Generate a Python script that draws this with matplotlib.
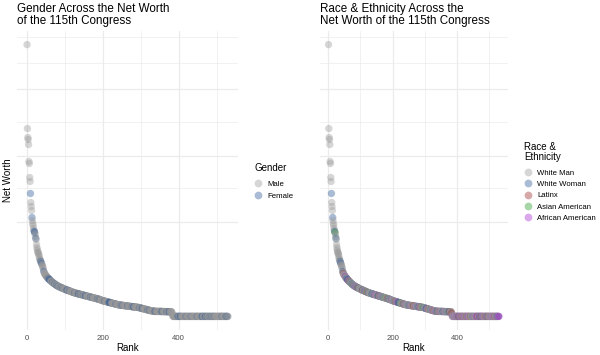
import matplotlib
matplotlib.use("Agg")
import matplotlib.pyplot as plt
from matplotlib.lines import Line2D

# ---------------- data ----------------
# Net worth (arbitrary linear units, y axis has no labels), ordered by rank 1..530
net_worth = [
    272, 188, 179, 177, 172, 155, 153, 139, 135, 123,
    114, 110, 106, 99, 96, 93, 91, 88, 86, 85,
    84, 83, 80, 78, 77, 72, 69, 67, 65, 64,
    63, 62, 60, 58, 57, 56, 55, 54, 53, 52,
    51, 50, 49, 47, 45, 44, 43, 42, 42, 41,
    41, 40, 40, 39, 39, 38, 38, 38, 37, 37,
    36.5, 36, 36, 35.5, 35, 35, 34.5, 34, 34, 33.5,
    33, 33, 32.5, 32.5, 32, 32, 31.5, 31.5, 31, 31,
    30.5, 30.5, 30, 30, 30, 29.5, 29.5, 29.5, 29, 29,
    29, 28.5, 28.5, 28.5, 28, 28, 28, 27.5, 27.5, 27.5,
    27, 27, 27, 26.5, 26.5, 26.5, 26, 26, 26, 26,
    25.8, 25.6, 25.5, 25.3, 25.1, 25, 24.8, 24.7, 24.5, 24.4,
    24.3, 24.1, 24, 23.9, 23.8, 23.6, 23.5, 23.4, 23.3, 23.2,
    23.1, 23, 22.9, 22.8, 22.7, 22.6, 22.5, 22.4, 22.3, 22.2,
    22.1, 22, 21.9, 21.8, 21.7, 21.6, 21.5, 21.4, 21.3, 21.2,
    21.1, 21, 20.9, 20.8, 20.7, 20.6, 20.5, 20.4, 20.3, 20.2,
    20.1, 20, 19.9, 19.8, 19.7, 19.6, 19.5, 19.4, 19.3, 19.2,
    19.1, 19, 18.9, 18.8, 18.7, 18.6, 18.5, 18.4, 18.3, 18.2,
    18.1, 18, 17.9, 17.8, 17.7, 17.6, 17.5, 17.4, 17.3, 17.2,
    17.1, 17, 16.8, 16.6, 16.5, 16.3, 16.2, 16, 15.9, 15.8,
    15.7, 15.6, 15.5, 15.4, 15.3, 15.2, 15.1, 15, 14.9, 14.8,
    14.7, 14.6, 14.5, 14.4, 14.3, 14.2, 14.1, 14, 13.9, 13.8,
    13.7, 13.6, 13.5, 13.4, 13.3, 13.2, 13.1, 13, 12.9, 12.8,
    12.7, 12.6, 12.5, 12.4, 12.3, 12.2, 12.1, 12, 11.9, 11.8,
    11.7, 11.6, 11.5, 11.5, 11.4, 11.4, 11.3, 11.3, 11.2, 11.2,
    11.1, 11.1, 11, 11, 10.9, 10.9, 10.8, 10.8, 10.7, 10.7,
    10.6, 10.6, 10.5, 10.5, 10.4, 10.4, 10.3, 10.3, 10.2, 10.2,
    10.1, 10.1, 10, 10, 9.9, 9.9, 9.8, 9.8, 9.7, 9.7,
    9.6, 9.6, 9.5, 9.5, 9.4, 9.4, 9.3, 9.3, 9.2, 9.2,
    9.1, 9.1, 9, 9, 8.9, 8.8, 8.7, 8.6, 8.5, 8.4,
    8.3, 8.2, 8.1, 8, 7.9, 7.8, 7.7, 7.6, 7.5, 7.4,
    7.3, 7.2, 7.1, 7, 6.9, 6.8, 6.7, 6.6, 6.5, 6.4,
    6.3, 6.2, 6.1, 6, 5.9, 5.8, 5.7, 5.6, 5.5, 5.5,
    5.4, 5.4, 5.3, 5.3, 5.2, 5.2, 5.1, 5.1, 5, 5,
    5, 5, 5, 5, 5, 5, 5, 5, 5, 5,
    5, 5, 5, 5, 4.9, 4.9, 4.9, 4.9, 4.9, 4.9,
    4.8, 4.8, 4.8, 4.8, 4.8, 4.8, 4.8, 4.8, 4.8, 4.8,
    4.8, 4.8, 4.7, 4.7, 4.7, 4.7, 4.7, 4.7, 4.7, 4.7,
    4.7, 4.6, 3.5, 1.5, 0, 0, 0, 0, 0, 0,
    0, 0, 0, 0, 0, 0, 0, 0, 0, 0,
    0, 0, 0, 0, 0, 0, 0, 0, 0, 0,
    0, 0, 0, 0, 0, 0, 0, 0, 0, 0,
    0, 0, 0, 0, 0, 0, 0, 0, 0, 0,
    0, 0, 0, 0, 0, 0, 0, 0, 0, 0,
    0, 0, 0, 0, 0, 0, 0, 0, 0, 0,
    0, 0, 0, 0, 0, 0, 0, 0, 0, 0,
    0, 0, 0, 0, 0, 0, 0, 0, 0, 0,
    0, 0, 0, 0, 0, 0, 0, 0, 0, 0,
    0, 0, 0, 0, 0, 0, 0, 0, 0, 0,
    0, 0, 0, 0, 0, 0, 0, 0, 0, 0,
    0, 0, 0, 0, 0, 0, 0, 0, 0, 0,
    0, 0, 0, 0, 0, 0, 0, 0, 0, 0,
    0, 0, 0, 0, 0, 0, 0, 0, 0, 0,
]

# Member code per rank: M white man, W white woman,
# l/L Latinx man/woman, a/A Asian American man/woman, b/B African American man/woman
member_codes = "".join([
    "MMMMMMMMMW", "MMMWMMMMMW", "AMMWMMMMMM", "MMMMMMWMWM", "MMMMWMlMMM",
    "MMbMMMWMMW", "WBMMlMMWMM", "MMMWMMaMBM", "MMWMMbMMMW", "MlMMWMMMMM",
    "MMMMMWLMMM", "MMWMMbMMaM", "MlMMMWMMMM", "MMMMMWWMMM", "MWMMbMMMBM",
    "MMMMWWMlMM", "MMbMMMMWMM", "MMWMMMMaMM", "MMMlMMWMMM", "MWMMMMbMMM",
    "MMMMWMMMlM", "MMbMMMWBWM", "WWMMMaMMMM", "MMlMWMMMMb", "MMMMMMMMWM",
    "MMWMMMbMMM", "MMMlMLMMMM", "MbMMMMMWMM", "MWBMMMMlMM", "MMMaMMWMMM",
    "MMMWWMbMMM", "MlMMMMMMWM", "MMMBMMMlMM", "MMbMMMMWWM", "MMMlMMMMbM",
    "MMMMMWWMMM", "MbMMMMMMWM", "MMMMWWMlMM", "MMlMMbMMMM", "MbMMMMMBMM",
    "BMMMWLMMbM", "MMbMMlMMMB", "MMMbMMMMlM", "MMBMMbMMMM", "MlMMMMMMWM",
    "MMbMMMMMMb", "MBLMMbMMMW", "BMMlMWMMbM", "MMBMMMMLMM", "MbMWMMlMMM",
    "MMMbMMMMbM", "MMMBMMlMMM", "MMbMWMMBMb",
])

gender_levels = ["Male", "Female"]
race_levels = ["White Man", "White Woman", "Latinx", "Asian American", "African American"]
gender_of_code = {"M": "Male", "l": "Male", "a": "Male", "b": "Male",
                  "W": "Female", "L": "Female", "A": "Female", "B": "Female"}
race_of_code = {"M": "White Man", "W": "White Woman", "l": "Latinx", "L": "Latinx",
                "a": "Asian American", "A": "Asian American",
                "b": "African American", "B": "African American"}

assert len(net_worth) == len(member_codes), (len(net_worth), len(member_codes))
rank = list(range(1, len(net_worth) + 1))
gender = [gender_of_code[c] for c in member_codes]
race = [race_of_code[c] for c in member_codes]

# ---------------- styling ----------------
gender_colors = {"Male": "#999999", "Female": "#2b5797"}
race_colors = {"White Man": "#999999", "White Woman": "#2b5797", "Latinx": "#9a2a2a",
               "Asian American": "#279a27", "African American": "#a028cf"}
ALPHA = 0.4
PT_SIZE = 28

plt.rcParams["font.family"] = ["Liberation Sans", "DejaVu Sans"]
W, H = 600, 355
fig = plt.figure(figsize=(W / 100, H / 100), dpi=100)


def px_rect(x0, x1, y0, y1):
    return [x0 / W, 1 - y1 / H, (x1 - x0) / W, (y1 - y0) / H]


axL = fig.add_axes(px_rect(17, 238, 31, 330))
axR = fig.add_axes(px_rect(320, 507.5, 31, 330))

y_major = [94, 161, 228]
y_minor = [128, 195, 254, 280]


def style(ax):
    n = len(rank)
    span = n - 1
    ax.set_xlim(1 - 0.05 * span, n + 0.05 * span)
    ymin, ymax = min(net_worth), max(net_worth)
    ys = ymax - ymin
    ax.set_ylim(ymin - 0.05 * ys, ymax + 0.05 * ys)
    ax.set_xticks([0, 200, 400])
    ax.set_xticks([100, 300, 500], minor=True)
    ax.set_yticks(y_major)
    ax.set_yticks(y_minor, minor=True)
    ax.set_yticklabels([])
    ax.tick_params(axis="both", which="both", length=0)
    ax.tick_params(axis="x", labelsize=5.6, labelcolor="#4d4d4d", pad=3.5)
    ax.grid(True, which="major", color="#ebebeb", linewidth=0.9)
    ax.grid(True, which="minor", color="#ebebeb", linewidth=0.5)
    ax.set_axisbelow(True)
    for s in ax.spines.values():
        s.set_visible(False)
    ax.set_xlabel("Rank", fontsize=7, labelpad=1)


style(axL)
style(axR)

axL.scatter(rank, net_worth, c=[gender_colors[g] for g in gender], s=PT_SIZE,
            alpha=ALPHA, edgecolors="none")
axR.scatter(rank, net_worth, c=[race_colors[r] for r in race], s=PT_SIZE,
            alpha=ALPHA, edgecolors="none")

fig.text(8 / W, 1 - 180.5 / H, "Net Worth", fontsize=7, rotation=90,
         ha="center", va="center")

fig.text(17 / W, 1 - 3 / H, "Gender Across the Net Worth\nof the 115th Congress",
         fontsize=8.4, ha="left", va="top", linespacing=1.0)
fig.text(320 / W, 1 - 3 / H, "Race & Ethnicity Across the\nNet Worth of the 115th Congress",
         fontsize=8.4, ha="left", va="top", linespacing=1.0)


def make_handles(levels, colors):
    return [Line2D([], [], linestyle="none", marker="o", markersize=5.6,
                   markerfacecolor=colors[l], markeredgecolor="none", alpha=ALPHA)
            for l in levels]


legL = fig.legend(make_handles(gender_levels, gender_colors), gender_levels,
                  title="Gender", loc="upper left",
                  bbox_to_anchor=(249 / W, 1 - 158 / H), frameon=False,
                  fontsize=5.6, title_fontsize=7, handlelength=1.0,
                  handletextpad=0.6, labelspacing=0.55, borderpad=0.2,
                  alignment="left")
legL._legend_box.sep = 5
legR = fig.legend(make_handles(race_levels, race_colors), race_levels,
                  title="Race &\nEthnicity", loc="upper left",
                  bbox_to_anchor=(519 / W, 1 - 137 / H), frameon=False,
                  fontsize=5.6, title_fontsize=7, handlelength=1.0,
                  handletextpad=0.6, labelspacing=0.5, borderpad=0.2,
                  alignment="left")
legR._legend_box.sep = 5
legR.get_title().set_multialignment("left")
legR.get_title().set_linespacing(1.0)

fig.savefig("out.png", dpi=100)
